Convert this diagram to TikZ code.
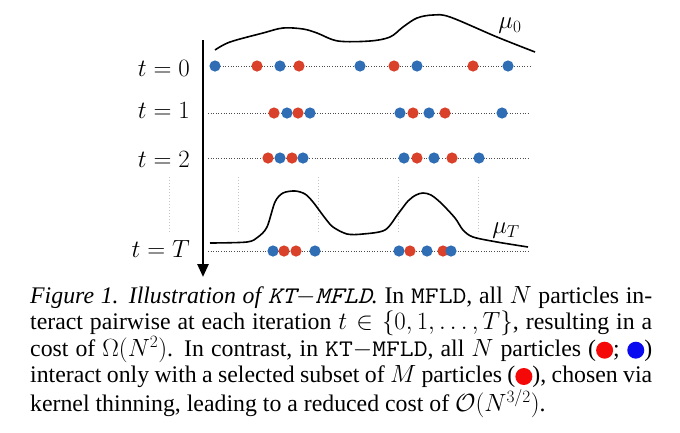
\documentclass[tikz,border=0pt]{standalone}
\usepackage{fontspec}
\setmainfont{Liberation Serif}
\setmonofont{Latin Modern Mono}[FakeStretch=1.13]
\usetikzlibrary{arrows.meta}
\definecolor{pblue}{RGB}{47,110,181}
\definecolor{pred}{RGB}{217,65,43}
\definecolor{capred}{RGB}{245,8,8}
\definecolor{capblue}{RGB}{10,10,240}
\newcommand{\capdot}[1]{\tikz[baseline=-6.5pt]\fill[#1] (0,0) circle (8.5pt);}
\begin{document}
\begin{tikzpicture}[x=1pt,y=-1pt,
  rowline/.style={line width=0.9pt,gray!60!black,dash pattern=on 1pt off 1.6pt},
  vline/.style={line width=0.8pt,gray!45,dash pattern=on 1pt off 2pt},
  curve/.style={line width=1.6pt,black,line join=round},
  axisline/.style={line width=2.6pt,-{Triangle[length=13pt,width=11pt]}},
  tlabel/.style={anchor=base east,inner sep=0pt,font=\fontsize{23}{27}\selectfont},
  mulabel/.style={inner sep=0pt,font=\fontsize{23}{27}\selectfont}]
\useasboundingbox (0,0) rectangle (680,432);

% vertical dotted guide lines
\foreach \x in {169,238,318,398,478} \draw[vline] (\x,177) -- (\x,233);

% row lines
\draw[rowline] (215,66) -- (530,66);
\foreach \y in {113,158,251} \draw[rowline] (208,\y) -- (530,\y);

% curves
\draw[curve] plot[smooth,tension=0.55] coordinates {(215,50) (230,42) (263,33) (283,28) (303,29) (317,33) (338,41) (370,41) (390,37) (403,27) (417,18) (433,15) (450,17) (497,37) (535,52)};
\draw[curve] plot[smooth,tension=0.5] coordinates {(210,243) (247,242) (258,237) (267,227) (275,202) (283,193) (295,191) (305,194) (313,202) (325,218) (333,227) (347,234) (363,234) (385,230) (398,214) (408,201) (416,195) (423,193) (431,195) (441,203) (455,218) (463,230) (473,237) (497,242) (528,247)};

% particles
\foreach \x/\c in {215/pblue,257/pred,280/pblue,299/pred,360/pblue,394/pred,417/pblue,473/pred,508/pblue}
  \fill[\c] (\x,66) circle (5.6pt);
\foreach \x/\c in {274/pred,287/pblue,298/pred,310/pblue,400/pblue,413/pred,429/pblue,445/pred,502/pblue}
  \fill[\c] (\x,113) circle (5.6pt);
\foreach \x/\c in {268/pred,280/pblue,292/pred,303/pblue,404/pblue,417/pred,434/pblue,452/pred,479/pblue}
  \fill[\c] (\x,158) circle (5.6pt);
\foreach \x/\c in {273/pblue,284/pred,296/pred,315/pblue,399/pblue,410/pred,427/pblue,443/pred,451/pblue}
  \fill[\c] (\x,251) circle (5.6pt);

% time axis
\coordinate (axtop) at (203,40);
\coordinate (axbot) at (203,277);
\draw[axisline] (axtop) -- (axbot);

% labels
\node[tlabel] (t0) at (190,76) {$t = 0$};
\node[tlabel] (t1) at (190,118) {$t = 1$};
\node[tlabel] (t2) at (190,167) {$t = 2$};
\node[tlabel] (tT) at (190,257) {$t = T$};
\node[mulabel] (mu0) at (510,26) {$\mu_0$};
\node[mulabel] (muT) at (506,231) {$\mu_T$};

% caption
\node[anchor=base west,inner sep=0pt] (cap) at (30,303) {\parbox[t]{622pt}{\fontsize{23.8}{26.3}\selectfont\sloppy
\textit{Figure 1. Illustration of \texttt{KT$-$MFLD}.} In \texttt{MFLD}, all $N$ particles in-\linebreak
teract pairwise at each iteration $t\in\{0,1,\ldots,T\}$, resulting in a\linebreak
cost of $\Omega(N^2)$. In contrast, in \texttt{KT$-$MFLD}, all $N$ particles (\capdot{capred}; \capdot{capblue})\linebreak
interact only with a selected subset of $M$ particles (\capdot{capred}), chosen via\linebreak
kernel thinning, leading to a reduced cost of $\mathcal{O}(N^{3/2})$.}};
\end{tikzpicture}
\end{document}
